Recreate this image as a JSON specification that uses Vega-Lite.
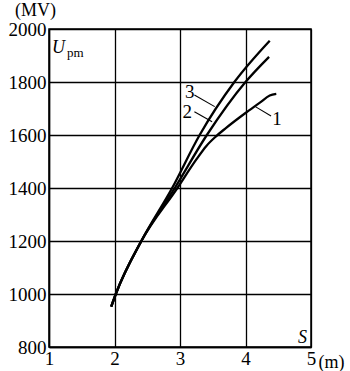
{
  "$schema": "https://vega.github.io/schema/vega-lite/v6.json",
  "width": 262,
  "height": 318,
  "autosize": "none",
  "padding": {"left": 49, "top": 29, "right": 39, "bottom": 24},
  "background": "white",
  "config": {
    "view": {"stroke": "black", "strokeWidth": 1.5},
    "font": "Liberation Serif"
  },
  "datasets": {
    "curves": [
      {"series": "1", "s": 1.95, "u": 952},
      {"series": "1", "s": 2.02, "u": 1000},
      {"series": "1", "s": 2.41, "u": 1200},
      {"series": "1", "s": 2.96, "u": 1400},
      {"series": "1", "s": 3.25, "u": 1508},
      {"series": "1", "s": 3.4, "u": 1558},
      {"series": "1", "s": 3.55, "u": 1595},
      {"series": "1", "s": 3.7, "u": 1626},
      {"series": "1", "s": 4.0, "u": 1683},
      {"series": "1", "s": 4.22, "u": 1722},
      {"series": "1", "s": 4.37, "u": 1749},
      {"series": "1", "s": 4.47, "u": 1755},
      {"series": "2", "s": 1.95, "u": 952},
      {"series": "2", "s": 2.02, "u": 1000},
      {"series": "2", "s": 2.41, "u": 1200},
      {"series": "2", "s": 2.92, "u": 1400},
      {"series": "2", "s": 3.41, "u": 1600},
      {"series": "2", "s": 4.0, "u": 1800},
      {"series": "2", "s": 4.36, "u": 1895},
      {"series": "3", "s": 1.95, "u": 952},
      {"series": "3", "s": 2.02, "u": 1000},
      {"series": "3", "s": 2.41, "u": 1200},
      {"series": "3", "s": 2.88, "u": 1400},
      {"series": "3", "s": 3.30, "u": 1600},
      {"series": "3", "s": 3.83, "u": 1800},
      {"series": "3", "s": 4.37, "u": 1956}
    ],
    "leaders": [
      {"series": "3", "s": 3.22, "u": 1751, "s2": 3.53, "u2": 1707},
      {"series": "2", "s": 3.22, "u": 1688, "s2": 3.49, "u2": 1650},
      {"series": "1", "s": 4.15, "u": 1707, "s2": 4.39, "u2": 1672}
    ],
    "numbers": [
      {"label": "3", "s": 3.15, "u": 1762},
      {"label": "2", "s": 3.11, "u": 1688},
      {"label": "1", "s": 4.48, "u": 1660}
    ],
    "italics": [
      {"label": "U", "s": 1.046, "u": 1909},
      {"label": "S", "s": 4.80, "u": 815}
    ],
    "subs": [
      {"label": "pm", "s": 1.275, "u": 1894}
    ]
  },
  "layer": [
    {
      "data": {"name": "curves"},
      "mark": {"type": "line", "color": "black", "strokeWidth": 2.3, "interpolate": "monotone", "clip": true},
      "encoding": {
        "x": {
          "field": "s", "type": "quantitative",
          "scale": {"domain": [1, 5], "nice": false, "zero": false},
          "axis": {
            "values": [1, 2, 3, 4, 5],
            "format": "d",
            "title": "(m)",
            "titleFont": "Liberation Serif",
            "titleFontSize": 18,
            "titleFontWeight": "normal",
            "titleColor": "black",
            "titleAngle": 0,
            "titleAlign": "center",
            "titleBaseline": "alphabetic",
            "titleX": 282,
            "titleY": 20,
            "labelFont": "Liberation Serif",
            "labelFontSize": 19,
            "labelColor": "black",
            "labelPadding": 2,
            "labelFlush": false,
            "ticks": false,
            "domainColor": "black",
            "domainWidth": 1.5,
            "grid": true,
            "gridColor": "black",
            "gridOpacity": 1,
            "gridWidth": 1.3
          }
        },
        "y": {
          "field": "u", "type": "quantitative",
          "scale": {"domain": [800, 2000], "nice": false, "zero": false},
          "axis": {
            "values": [800, 1000, 1200, 1400, 1600, 1800, 2000],
            "format": "d",
            "title": "(MV)",
            "titleFont": "Liberation Serif",
            "titleFontSize": 18,
            "titleFontWeight": "normal",
            "titleColor": "black",
            "titleAngle": 0,
            "titleAlign": "center",
            "titleBaseline": "alphabetic",
            "titleX": -14,
            "titleY": -14,
            "labelFont": "Liberation Serif",
            "labelFontSize": 19,
            "labelColor": "black",
            "labelPadding": 3,
            "labelFlush": false,
            "ticks": false,
            "domainColor": "black",
            "domainWidth": 1.5,
            "grid": true,
            "gridColor": "black",
            "gridOpacity": 1,
            "gridWidth": 1.3
          }
        },
        "detail": {"field": "series", "type": "nominal"}
      }
    },
    {
      "data": {"name": "leaders"},
      "mark": {"type": "rule", "color": "black", "strokeWidth": 1.1},
      "encoding": {
        "x": {"field": "s", "type": "quantitative"},
        "y": {"field": "u", "type": "quantitative"},
        "x2": {"field": "s2"},
        "y2": {"field": "u2"}
      }
    },
    {
      "data": {"name": "numbers"},
      "mark": {"type": "text", "font": "Liberation Serif", "fontSize": 19, "color": "black", "align": "center", "baseline": "middle"},
      "encoding": {
        "x": {"field": "s", "type": "quantitative"},
        "y": {"field": "u", "type": "quantitative"},
        "text": {"field": "label"}
      }
    },
    {
      "data": {"name": "italics"},
      "mark": {"type": "text", "font": "Liberation Serif", "fontSize": 18, "fontStyle": "italic", "color": "black", "align": "left", "baseline": "alphabetic"},
      "encoding": {
        "x": {"field": "s", "type": "quantitative"},
        "y": {"field": "u", "type": "quantitative"},
        "text": {"field": "label"}
      }
    },
    {
      "data": {"name": "subs"},
      "mark": {"type": "text", "font": "Liberation Serif", "fontSize": 13, "color": "black", "align": "left", "baseline": "alphabetic"},
      "encoding": {
        "x": {"field": "s", "type": "quantitative"},
        "y": {"field": "u", "type": "quantitative"},
        "text": {"field": "label"}
      }
    }
  ]
}
